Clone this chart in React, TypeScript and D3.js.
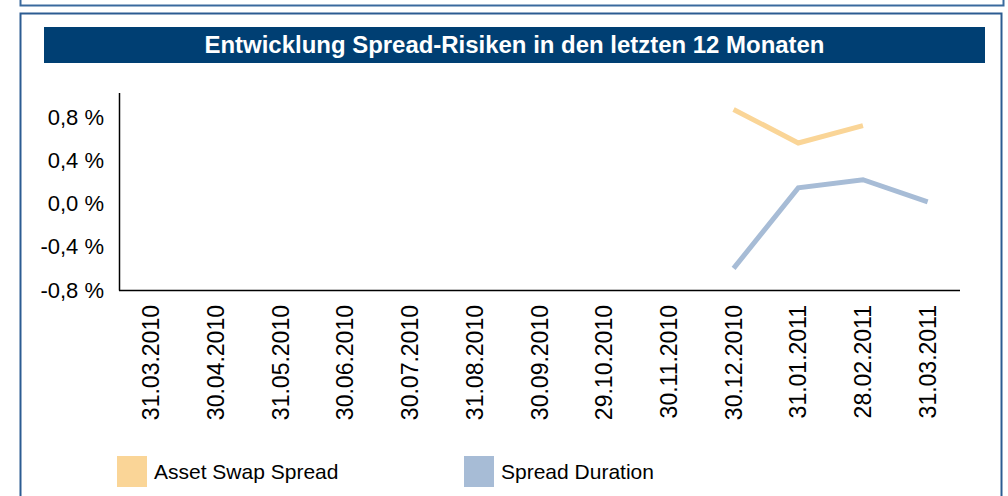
import React, { useEffect, useRef } from 'react';
import * as d3 from 'd3';

const dates = [
  '31.03.2010', '30.04.2010', '31.05.2010', '30.06.2010', '30.07.2010',
  '31.08.2010', '30.09.2010', '29.10.2010', '30.11.2010', '30.12.2010',
  '31.01.2011', '28.02.2011', '31.03.2011',
];
const assetSwapSpread: (number | null)[] = [null, null, null, null, null, null, null, null, null, 0.87, 0.56, 0.72, null];
const spreadDuration: (number | null)[] = [null, null, null, null, null, null, null, null, null, -0.6, 0.145, 0.22, 0.015];
const yTicks = [-0.8, -0.4, 0, 0.4, 0.8];

const seriesNames = ['Asset Swap Spread', 'Spread Duration'];
const seriesColors = ['#FAD597', '#A7BCD6'];

const App = () => {
  const svgRef = useRef<SVGSVGElement>(null);

  useEffect(() => {
    const width = 1008;
    const height = 496;
    const svg = d3.select(svgRef.current).attr('width', width).attr('height', height);
    svg.selectAll('*').remove();

    const font = '"Liberation Sans", Arial, sans-serif';

    // outer panels
    svg.append('rect')
      .attr('x', 20.5).attr('y', -20).attr('width', 983).attr('height', 25.5)
      .attr('fill', 'none').attr('stroke', '#3A6A9E').attr('stroke-width', 2);
    svg.append('rect')
      .attr('x', 20.5).attr('y', 13.5).attr('width', 981).attr('height', 520)
      .attr('fill', 'none').attr('stroke', '#2C5C92').attr('stroke-width', 2);

    // title bar
    svg.append('rect')
      .attr('x', 44).attr('y', 27).attr('width', 941).attr('height', 36)
      .attr('fill', '#003F73');
    svg.append('text')
      .attr('x', 514.5).attr('y', 45)
      .attr('dy', '0.35em')
      .attr('text-anchor', 'middle')
      .attr('fill', '#fff')
      .attr('font-family', font)
      .attr('font-weight', 'bold')
      .attr('font-size', 23)
      .attr('textLength', 620)
      .attr('lengthAdjust', 'spacingAndGlyphs')
      .text('Entwicklung Spread-Risiken in den letzten 12 Monaten');

    const x = d3.scaleBand().domain(dates).range([119, 960]);
    const y = d3.scaleLinear().domain([-0.8, 1.0]).range([290, 95.4]);

    // axes
    const g = svg.append('g');
    g.append('line')
      .attr('x1', 119.5).attr('x2', 119.5).attr('y1', 93).attr('y2', 290.5)
      .attr('stroke', '#000').attr('stroke-width', 1.5);
    g.append('line')
      .attr('x1', 119).attr('x2', 960).attr('y1', 290.5).attr('y2', 290.5)
      .attr('stroke', '#000').attr('stroke-width', 1.5);

    g.selectAll('.ytick')
      .data(yTicks)
      .enter()
      .append('text')
      .attr('x', 104)
      .attr('y', d => y(d))
      .attr('dy', '0.35em')
      .attr('text-anchor', 'end')
      .attr('font-family', font)
      .attr('font-size', 22)
      .text(d => `${d3.format('.1f')(d).replace('.', ',').replace('−', '-')} %`);

    g.selectAll('.xtick')
      .data(dates)
      .enter()
      .append('text')
      .attr('transform', d => `translate(${x(d)! + x.bandwidth() / 2},305) rotate(-90)`)
      .attr('dy', '0.35em')
      .attr('text-anchor', 'end')
      .attr('font-family', font)
      .attr('font-size', 23)
      .text(d => d);

    // lines
    const line = d3.line<number | null>()
      .defined(d => d !== null)
      .x((d, i) => x(dates[i])! + x.bandwidth() / 2)
      .y(d => y(d as number));

    [assetSwapSpread, spreadDuration].forEach((s, i) => {
      svg.append('path')
        .attr('d', line(s))
        .attr('fill', 'none')
        .attr('stroke', seriesColors[i])
        .attr('stroke-width', 5);
    });

    // legend
    const legendX = [117, 464];
    seriesNames.forEach((name, i) => {
      svg.append('rect')
        .attr('x', legendX[i]).attr('y', 456).attr('width', 30).attr('height', 31)
        .attr('fill', seriesColors[i]);
      svg.append('text')
        .attr('x', legendX[i] + 37).attr('y', 472)
        .attr('dy', '0.35em')
        .attr('font-family', font)
        .attr('font-size', 21)
        .text(name);
    });
  }, []);

  return <svg ref={svgRef} style={{ position: 'absolute', left: 0, top: 0 }} />;
};

export default App;
